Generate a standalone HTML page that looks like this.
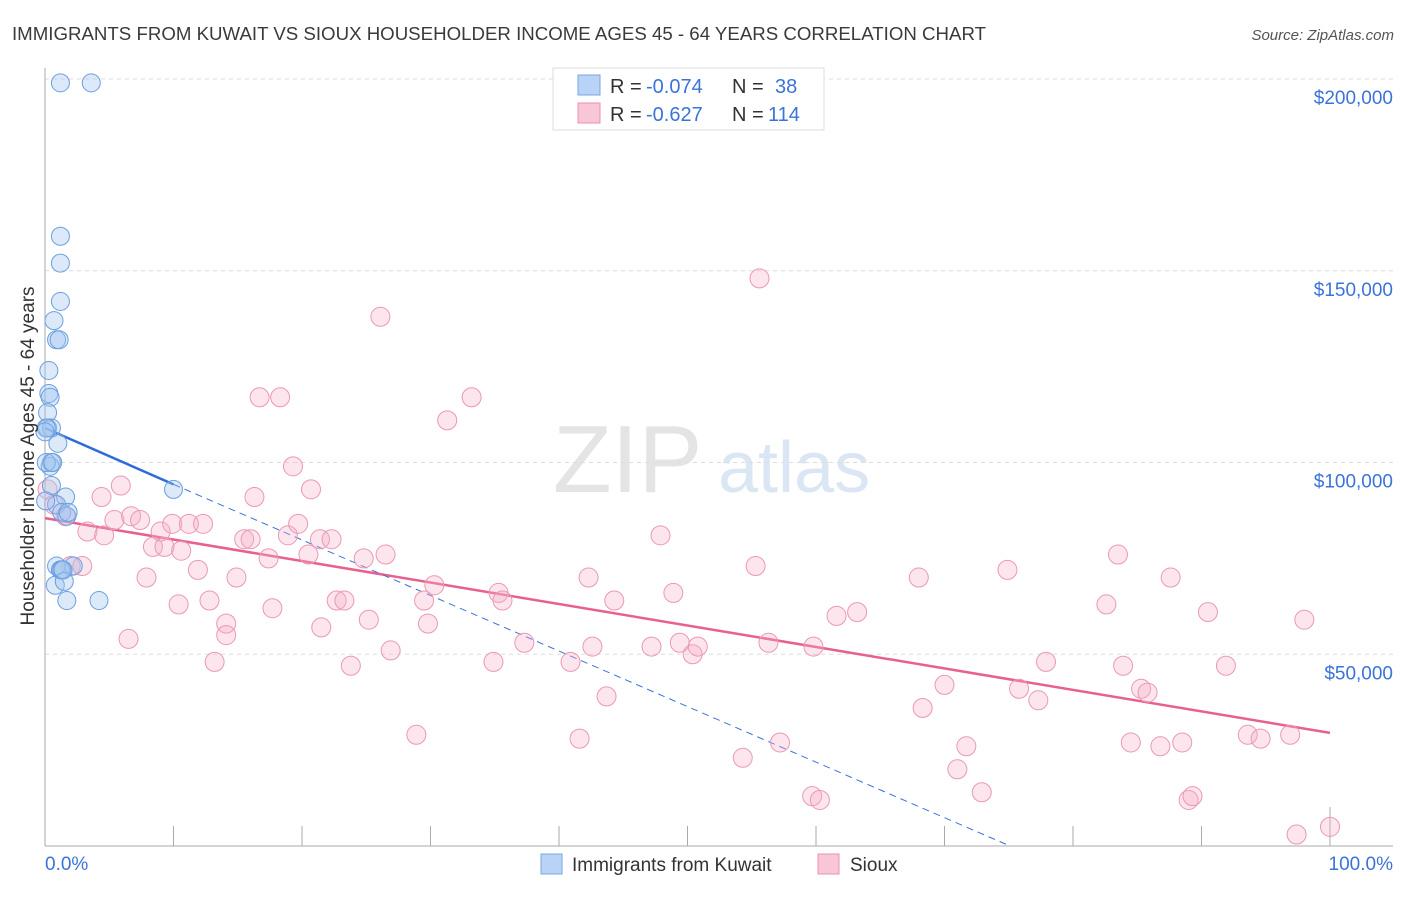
<!DOCTYPE html>
<html><head><meta charset="utf-8"><style>
body{margin:0;background:#fff;font-family:"Liberation Sans",sans-serif}
svg text{font-family:"Liberation Sans",sans-serif}
</style></head><body>
<svg width="1406" height="892">
<text x="12" y="40" font-size="18" fill="#3a3a3a" textLength="974" lengthAdjust="spacingAndGlyphs">IMMIGRANTS FROM KUWAIT VS SIOUX HOUSEHOLDER INCOME AGES 45 - 64 YEARS CORRELATION CHART</text>
<text x="1394" y="40" font-size="15" fill="#555" text-anchor="end" font-style="italic">Source: ZipAtlas.com</text>
<g><text x="553" y="492" font-size="96" fill="#e4e4e4" font-family="Liberation Serif">ZIP</text><text x="718" y="492" font-size="72" fill="#dbe6f5">atlas</text></g>
<g id="grid"></g><g id="axes"></g><g id="lines"></g><g id="pts"></g>
<text transform="translate(34,456) rotate(-90)" font-size="19" fill="#333" text-anchor="middle">Householder Income Ages 45 - 64 years</text>
<text x="45" y="870" font-size="19" fill="#3b73d9">0.0%</text>
<text x="1393" y="870" font-size="19" fill="#3b73d9" text-anchor="end">100.0%</text>
<g>
<rect x="553" y="68" width="271" height="62" fill="#fff" stroke="#ddd"/>
<rect x="578" y="75" width="22" height="20" fill="#b8d3f5" stroke="#7aa6e0"/>
<rect x="578" y="103" width="22" height="20" fill="#f9c6d6" stroke="#e892ae"/>
<text x="610" y="93" font-size="20" fill="#333">R =</text><text x="646" y="93" font-size="20" fill="#3b73d9">-0.074</text><text x="732" y="93" font-size="20" fill="#333">N =</text><text x="775" y="93" font-size="20" fill="#3b73d9">38</text>
<text x="610" y="121" font-size="20" fill="#333">R =</text><text x="646" y="121" font-size="20" fill="#3b73d9">-0.627</text><text x="732" y="121" font-size="20" fill="#333">N =</text><text x="768" y="121" font-size="20" fill="#3b73d9">114</text>
</g>
<g>
<rect x="541" y="854" width="21" height="20" fill="#b8d3f5" stroke="#7aa6e0"/>
<text x="572" y="871" font-size="19" fill="#333">Immigrants from Kuwait</text>
<rect x="818" y="854" width="21" height="20" fill="#f9c6d6" stroke="#e892ae"/>
<text x="850" y="871" font-size="19" fill="#333">Sioux</text>
</g>
</svg>
<script>
const yTicks=[50,100,150,200];
const yTickLabels=["$50,000","$100,000","$150,000","$200,000"];
const kuwaitX=[1.2,3.6,1.2,1.2,1.2,0.7,0.9,1.1,0.3,0.3,0.4,0.2,0.2,0.5,0.1,1.0,0.5,0.4,0.5,1.6,0.9,1.3,1.7,1.8,2.2,0.9,1.2,1.3,0.8,1.5,1.7,4.2,10.0,0.0,0.1,0.05,1.4,0.6];
const kuwaitY=[199,199,159,152,142,137,132,132,124,118,117,113,109,109,109,105,100,99,94,91,89,87,86,87,73,73,72,72,68,69,64,64,93,108,100,90,72,100];
const siouxX=[0.2,0.7,1.6,2.0,2.9,4.4,3.3,4.6,5.9,6.5,5.4,6.7,7.4,7.9,8.4,9.0,9.3,9.9,10.4,10.6,11.2,11.9,12.3,12.8,13.2,14.1,14.1,14.9,15.5,16.0,16.3,16.7,17.4,17.7,18.3,18.9,19.3,19.7,20.5,20.7,21.4,21.5,22.3,22.7,23.3,23.8,24.8,25.2,26.1,26.5,26.9,28.9,29.5,29.8,30.3,31.3,33.2,34.9,35.3,35.6,37.3,40.9,41.6,42.3,42.6,43.7,44.3,47.2,47.9,48.9,49.4,50.4,50.8,54.3,55.3,55.6,56.3,57.2,59.7,59.8,60.3,61.6,63.2,68.0,68.3,70.0,71.0,71.7,72.9,74.9,75.8,77.3,77.9,82.6,83.5,83.9,84.5,85.3,85.8,86.8,87.6,88.5,89.0,89.3,90.5,91.9,93.6,94.6,96.9,97.4,98.0,100.0];
const siouxY=[93,89,86,73,73,91,82,81,94,54,85,86,85,70,78,82,78,84,63,77,84,72,84,64,48,58,55,70,80,80,91,117,75,62,117,81,99,84,76,93,80,57,80,64,64,47,75,59,138,76,51,29,64,58,68,111,117,48,66,64,53,48,28,70,52,39,64,52,81,66,53,50,52,23,73,148,53,27,13,52,12,60,61,70,36,42,20,26,14,72,41,38,48,63,76,47,27,41,40,26,70,27,12,13,61,47,29,28,29,3,59,5];
const xs=p=>45+p*12.85, ys=v=>846-v*3.835;
const NS="http://www.w3.org/2000/svg";
function mk(t,a,parent){const e=document.createElementNS(NS,t);for(const k in a)e.setAttribute(k,a[k]);document.getElementById(parent).appendChild(e);return e;}
yTicks.forEach((v,i)=>{
 const g=mk('line',{x1:45,x2:1393,y1:ys(v),y2:ys(v),stroke:'#ddd','stroke-dasharray':'4,4'},'grid');
 
 
 const t=mk('text',{x:1393,y:ys(v)+25,'font-size':19,fill:'#3b73d9','text-anchor':'end'},'grid');
 t.textContent=yTickLabels[i];
 
 
});
let a=mk('line',{x1:45,x2:45,y1:68,y2:846,stroke:'#aaa'},'axes');


a=mk('line',{x1:45,x2:1393,y1:846,y2:846,stroke:'#aaa'},'axes');


for(let i=1;i<=10;i++){const t=mk('line',{x1:xs(i*10),x2:xs(i*10),y1:i==10?807:826,y2:846,stroke:'#aaa'},'axes');
 
 }
let l=mk('line',{x1:xs(0),y1:ys(85.5),x2:xs(100),y2:ys(29.5),stroke:'#e8608e','stroke-width':2.5},'lines');


l=mk('line',{x1:xs(10),y1:ys(94.3),x2:xs(75.1),y2:ys(0),stroke:'#3b73d9','stroke-width':1,'stroke-dasharray':'7,5'},'lines');


l=mk('line',{x1:xs(0),y1:ys(109),x2:xs(10),y2:ys(94.3),stroke:'#2d6cd6','stroke-width':2.5},'lines');


siouxX.forEach((x,i)=>{const c=mk('circle',{cx:xs(x),cy:ys(siouxY[i]),r:9.5,fill:'rgba(246,175,198,0.32)',stroke:'#eb98b3','stroke-width':1},'pts');
 
 });
kuwaitX.forEach((x,i)=>{const c=mk('circle',{cx:xs(x),cy:ys(kuwaitY[i]),r:9,fill:'rgba(160,196,240,0.38)',stroke:'#6c9ee0','stroke-width':1},'pts');
 
 });
</script>
</body></html>
